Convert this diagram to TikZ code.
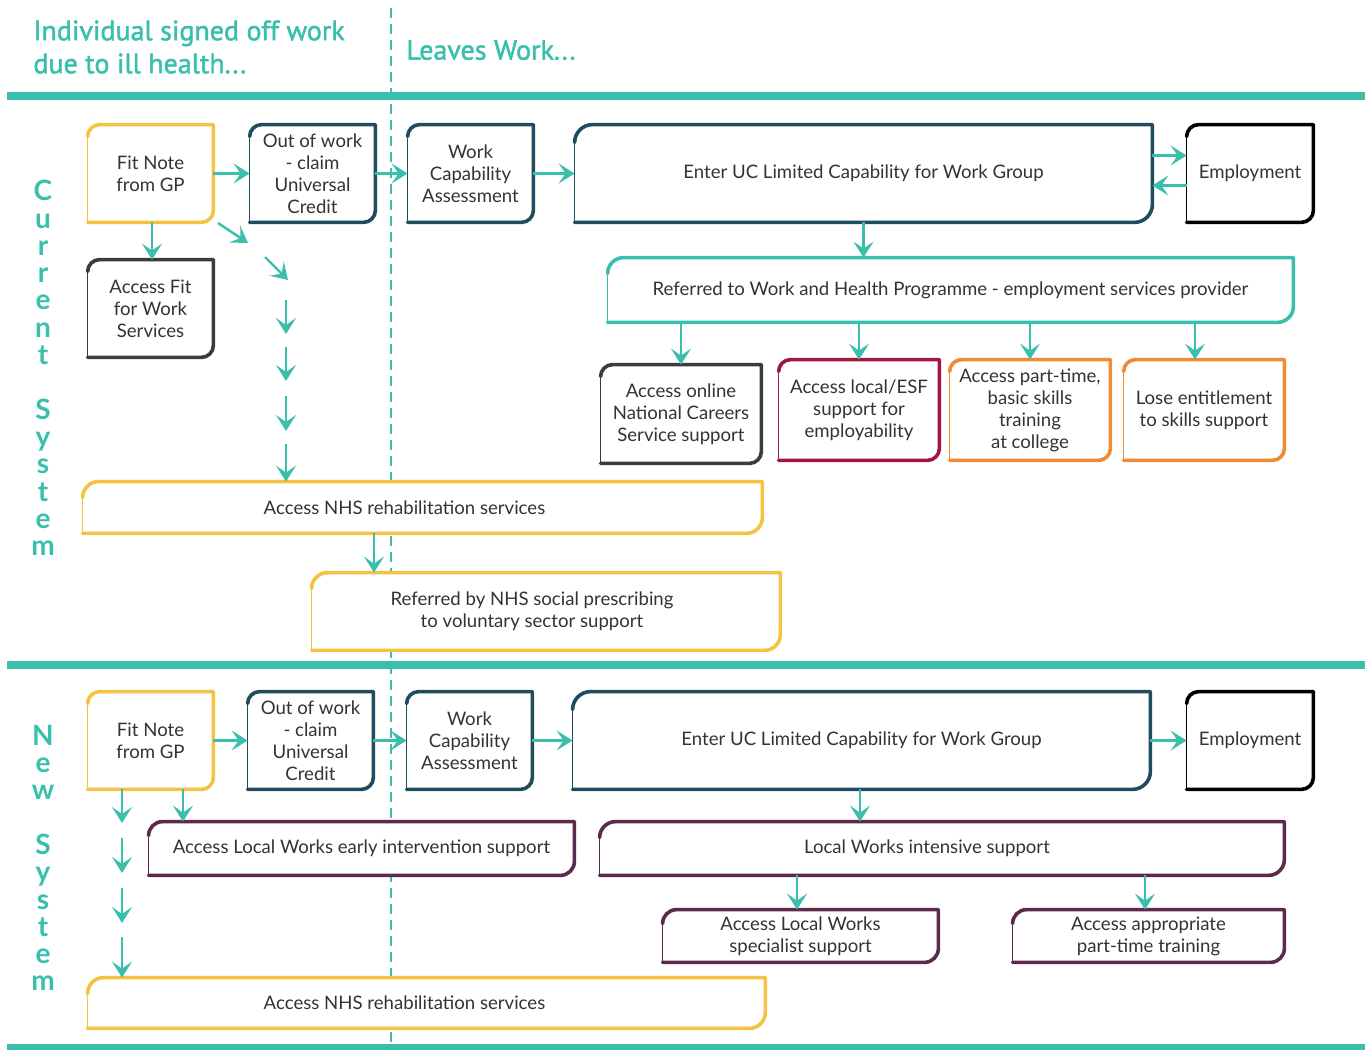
\documentclass[tikz,border=0pt]{standalone}
\usepackage{fontspec}
\setmainfont{Lato}
\newfontfamily\headfont[FakeBold=1.6]{PT Sans}
\usetikzlibrary{arrows.meta,calc}
\definecolor{teal}{HTML}{3BBFAD}
\definecolor{dteal}{HTML}{1F4D5E}
\definecolor{yel}{HTML}{F5C242}
\definecolor{dgray}{HTML}{3C3C3C}
\definecolor{crim}{HTML}{A3173F}
\definecolor{orng}{HTML}{F08A35}
\definecolor{purp}{HTML}{5B2A4C}
\definecolor{txt}{HTML}{333333}
\newcommand\sketchframe[3][6pt]{%
 \draw[draw=#3, line width=1.8pt, line join=round, line cap=round]
   ([yshift=-#1]#2.north west) arc[start angle=180,end angle=90,radius=#1]
   -- (#2.north east) -- ([yshift=#1]#2.south east) arc[start angle=0,end angle=-90,radius=#1]
   -- (#2.south west);
 \draw[draw=#3, line width=0.7pt] (#2.south west) -- ([yshift=-#1]#2.north west);
}
\newcommand\bnode[7][]{%
 \node[bx, minimum width={(#4-#2)*0.5pt}, minimum height={(#5-#3)*0.5pt}, #1]
   (#2x#3) at ({(#2+#4)/2},{(#3+#5)/2}) {#7};}
\newcommand\mybox[7][]{%
 \node[bx, minimum width={(#5-#3)*0.5pt}, minimum height={(#6-#4)*0.5pt}, #1]
   (#2) at ({(#3+#5)/2},{(#4+#6)/2}) {#7};}
\tikzset{
  bx/.style={inner sep=0pt, align=center, text=txt, fill=white, font=\fontsize{9.3}{11}\selectfont},
  lbl/.style={inner sep=0pt, align=center, text=txt, font=\fontsize{9.3}{11}\selectfont},
  arr/.style={draw=teal, line width=1.2pt, -{Stealth[length=8pt,width=10pt,inset=3.5pt]}},
  sep/.style={draw=teal, line width=4pt},
  head/.style={text=teal, font=\headfont\fontsize{14}{16.5}\selectfont, align=left, anchor=west, inner sep=0pt},
  side/.style={text=teal, font=\fontsize{14}{13.65}\selectfont\bfseries, align=center, inner sep=0pt}
}
\begin{document}
\begin{tikzpicture}[x=0.5pt,y=-0.5pt]
\useasboundingbox (0,0) rectangle (1372,1050);
% separators
\draw[draw=teal, line width=0.9pt, dash pattern=on 5pt off 3pt] (391,8) -- (391,1050);
\draw[sep] (7,96) -- (1365,96);
\draw[sep] (7,665) -- (1365,665);
\draw[sep] (7,1048) -- (1365,1048);
% headers
\node[head] (h1) at (33,47) {Individual signed off work\\due to ill health...};
\node[head] (h2) at (406,50) {Leaves Work...};
\node[side] (s1) at (43,368) {C\\u\\r\\r\\e\\n\\t\\ \\S\\y\\s\\t\\e\\m};
\node[side] (s2) at (43,858) {N\\e\\w\\ \\S\\y\\s\\t\\e\\m};

% ---------- current system
\mybox{fit1}{88}{125}{213}{222}{Fit Note\\from GP}
\mybox{ow1}{250}{125}{375}{222}{Out of work\\- claim\\Universal\\Credit}
\mybox{wca1}{408}{125}{533}{222}{Work\\Capability\\Assessment}
\mybox{uc1}{575}{125}{1152}{222}{Enter UC Limited Capability for Work Group}
\mybox{emp1}{1187}{125}{1313}{222}{Employment}
\mybox{afw}{88}{260}{213}{357}{Access Fit\\for Work\\Services}
\mybox{whp}{608}{258}{1293}{322}{Referred to Work and Health Programme - employment services provider}
\mybox{ncs}{601}{365}{761}{463}{Access online\\National Careers\\Service support}
\mybox{esf}{779}{360}{939}{460}{Access local/ESF\\support for\\employability}
\mybox{pt}{950}{360}{1110}{460}{Access part-time,\\basic skills\\training\\at college}
\mybox{lose}{1124}{360}{1284}{460}{Lose entitlement\\to skills support}
\mybox[label={[lbl,xshift=-9pt]center:Access NHS rehabilitation services}]{nhs1}{83}{482}{762}{533}{}
\mybox[label={[lbl,xshift=-7pt]center:Referred by NHS social prescribing\\to voluntary sector support}]{soc}{312}{573}{780}{650}{}

\sketchframe{fit1}{yel}
\sketchframe{ow1}{dteal}
\sketchframe{wca1}{dteal}
\sketchframe[9pt]{uc1}{dteal}
\sketchframe{emp1}{black}
\sketchframe{afw}{dgray}
\sketchframe[8pt]{whp}{teal}
\sketchframe{ncs}{dgray}
\sketchframe{esf}{crim}
\sketchframe{pt}{orng}
\sketchframe{lose}{orng}
\sketchframe[8pt]{nhs1}{yel}
\sketchframe[8pt]{soc}{yel}

\draw[arr] (fit1.east) -- (ow1.west);
\draw[arr] (ow1.east) -- (wca1.west);
\draw[arr] (wca1.east) -- (uc1.west);
\draw[arr] ($(uc1.east)+(0,-18)$) -- ($(emp1.west)+(0,-18)$);
\draw[arr] ($(emp1.west)+(0,12)$) -- ($(uc1.east)+(0,12)$);
\coordinate (cx1) at (152,0);
\draw[arr] (fit1.south -| cx1) -- (cx1 |- afw.north);
\draw[arr] (uc1.south) -- (uc1.south |- whp.north);
\draw[arr] (ncs.north |- whp.south) -- (ncs.north);
\draw[arr] (esf.north |- whp.south) -- (esf.north);
\draw[arr] (pt.north |- whp.south) -- (pt.north);
\coordinate (cx2) at (1195,0);
\draw[arr] (whp.south -| cx2) -- (cx2 |- lose.north);
\coordinate (ca1) at (218,223);
\coordinate (ca2) at (248,243);
\coordinate (cb1) at (265,257);
\coordinate (cb2) at (288,280);
\coordinate (cc1) at (286,300);
\coordinate (cc2) at (286,334);
\coordinate (cd1) at (286,347);
\coordinate (cd2) at (286,381);
\coordinate (ce1) at (286,396);
\coordinate (ce2) at (286,431);
\coordinate (cf1) at (286,444);
\draw[arr] (ca1) -- (ca2);
\draw[arr] (cb1) -- (cb2);
\draw[arr] (cc1) -- (cc2);
\draw[arr] (cd1) -- (cd2);
\draw[arr] (ce1) -- (ce2);
\draw[arr] (cf1) -- (cf1 |- nhs1.north);
\coordinate (cg) at (374,0);
\draw[arr] (nhs1.south -| cg) -- (cg |- soc.north);

% ---------- new system
\mybox{fit2}{88}{692}{213}{789}{Fit Note\\from GP}
\mybox{ow2}{248}{692}{373}{789}{Out of work\\- claim\\Universal\\Credit}
\mybox{wca2}{407}{692}{532}{789}{Work\\Capability\\Assessment}
\mybox{uc2}{573}{692}{1150}{789}{Enter UC Limited Capability for Work Group}
\mybox{emp2}{1187}{692}{1313}{789}{Employment}
\mybox{early}{149}{822}{574}{875}{Access Local Works early intervention support}
\mybox[label={[lbl,xshift=-7.5pt]center:Local Works intensive support}]{lwi}{600}{822}{1284}{875}{}
\mybox{spec}{663}{910}{938}{962}{Access Local Works\\specialist support}
\mybox{apt}{1013}{910}{1284}{962}{Access appropriate\\part-time training}
\mybox[label={[lbl,xshift=-11pt]center:Access NHS rehabilitation services}]{nhs2}{88}{978}{765}{1028}{}

\sketchframe{fit2}{yel}
\sketchframe{ow2}{dteal}
\sketchframe{wca2}{dteal}
\sketchframe[9pt]{uc2}{dteal}
\sketchframe{emp2}{black}
\sketchframe[7pt]{early}{purp}
\sketchframe[8pt]{lwi}{purp}
\sketchframe[7pt]{spec}{purp}
\sketchframe[7pt]{apt}{purp}
\sketchframe[8pt]{nhs2}{yel}

\draw[arr] (fit2.east) -- (ow2.west);
\draw[arr] (ow2.east) -- (wca2.west);
\draw[arr] (wca2.east) -- (uc2.west);
\draw[arr] (uc2.east) -- (emp2.west);
\coordinate (ch) at (183,0);
\draw[arr] (fit2.south -| ch) -- (ch |- early.north);
\coordinate (ci) at (860,0);
\draw[arr] (uc2.south -| ci) -- (ci |- lwi.north);
\coordinate (cj) at (797,0);
\draw[arr] (lwi.south -| cj) -- (cj |- spec.north);
\coordinate (ck) at (1145,0);
\draw[arr] (lwi.south -| ck) -- (ck |- apt.north);
\coordinate (cn0) at (122,0);
\coordinate (cn2) at (122,823);
\coordinate (cn3) at (122,838);
\coordinate (cn4) at (122,873);
\coordinate (cn5) at (122,888);
\coordinate (cn6) at (122,923);
\coordinate (cn7) at (122,937);
\draw[arr] (fit2.south -| cn0) -- (cn2);
\draw[arr] (cn3) -- (cn4);
\draw[arr] (cn5) -- (cn6);
\draw[arr] (cn7) -- (cn7 |- nhs2.north);
\end{tikzpicture}
\end{document}
